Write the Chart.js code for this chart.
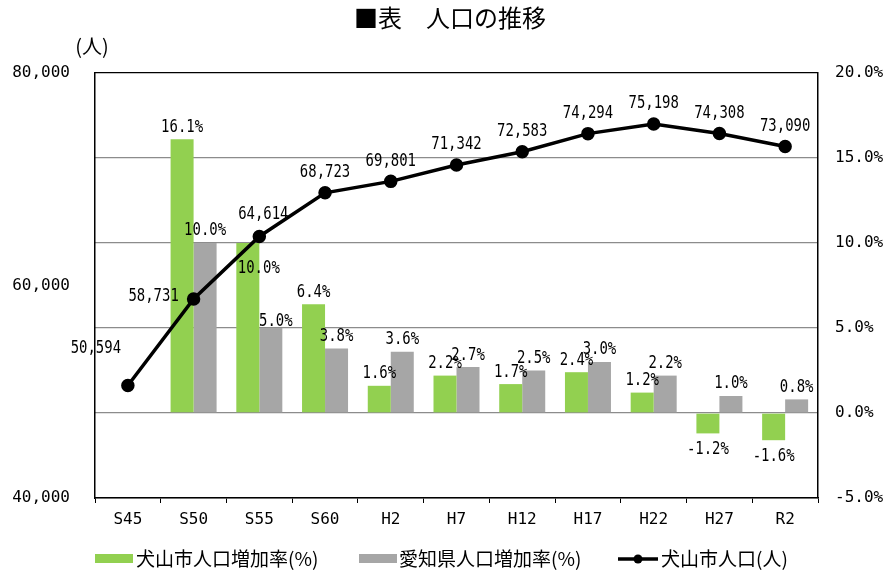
<!DOCTYPE html>
<html>
<head>
<meta charset="utf-8">
<script src="https://cdn.jsdelivr.net/npm/chart.js@4.4.1/dist/chart.umd.min.js"></script>
<style>
  body { margin: 0; background: #fff; }
  canvas { display: block; }
</style>
</head>
<body>
<canvas id="grafico" width="885" height="571"></canvas>
<script>
// データ
const nendo = ['S45', 'S50', 'S55', 'S60', 'H2', 'H7', 'H12', 'H17', 'H22', 'H27', 'R2'];
const inuyamaRitsu = [null, 16.1, 10.0, 6.4, 1.6, 2.2, 1.7, 2.4, 1.2, -1.2, -1.6]; // 犬山市人口増加率(%)
const aichiRitsu = [null, 10.0, 5.0, 3.8, 3.6, 2.7, 2.5, 3.0, 2.2, 1.0, 0.8];      // 愛知県人口増加率(%)
const inuyamaJinko = [50594, 58731, 64614, 68723, 69801, 71342, 72583, 74294, 75198, 74308, 73090]; // 犬山市人口(人)

const MIDORI = '#92D050';
const HAIIRO = '#A6A6A6';
const JP_FONT = '"Noto Sans CJK JP", sans-serif';
const NUM_FONT = '"DejaVu Sans Mono", monospace';

// ラベルを少し横長を詰めて描く
function drawNum(ctx, text, x, y) {
    ctx.save();
    ctx.font = '17px ' + NUM_FONT;
    ctx.textAlign = 'center';
    ctx.textBaseline = 'middle';
    ctx.fillStyle = '#000';
    ctx.translate(x, y);
    ctx.scale(0.82, 1);
    ctx.fillText(text, 0, 0);
    ctx.restore();
}

// データラベル
const labelPlugin = {
    id: 'labels',
    afterDatasetsDraw(chart) {
        const ctx = chart.ctx;
        // 棒グラフ
        [0, 1].forEach(di => {
            const meta = chart.getDatasetMeta(di);
            const vals = chart.data.datasets[di].data;
            meta.data.forEach((bar, i) => {
                const v = vals[i];
                if (v === null) return;
                let x = bar.x;
                let y = v >= 0 ? bar.y - 12 : bar.y + 16;
                if (di === 0 && i === 2) { x += 11; y += 38; } // 線と重ならないように
                if (di === 1 && i === 2) { x += 5; y += 6; }
                drawNum(ctx, v.toFixed(1) + '%', x, y);
            });
        });
        // 折れ線
        const meta = chart.getDatasetMeta(2);
        meta.data.forEach((pt, i) => {
            let x = pt.x, y = pt.y - 20;
            if (i === 0) { x -= 32; y = pt.y - 37; }
            if (i === 1) { x -= 40; y = pt.y - 2; }
            if (i === 2) { x += 4; y = pt.y - 22; }
            drawNum(ctx, inuyamaJinko[i].toLocaleString('en-US'), x, y);
        });
    }
};

// タイトル・単位・凡例
const decoPlugin = {
    id: 'deco',
    afterDraw(chart) {
        const ctx = chart.ctx;
        ctx.save();
        ctx.fillStyle = '#000';
        ctx.textBaseline = 'middle';
        ctx.textAlign = 'center';
        ctx.font = '24px ' + JP_FONT;
        ctx.fillText('■表\u3000人口の推移', 450, 18);
        ctx.font = '20px ' + JP_FONT;
        ctx.fillText('(人)', 92, 46);

        ctx.textAlign = 'left';
        ctx.font = '19px ' + JP_FONT;
        ctx.fillStyle = MIDORI;
        ctx.fillRect(95, 554, 38, 9);
        ctx.fillStyle = '#000';
        ctx.fillText('犬山市人口増加率(%)', 136, 559);

        ctx.fillStyle = HAIIRO;
        ctx.fillRect(359, 554, 38, 9);
        ctx.fillStyle = '#000';
        ctx.fillText('愛知県人口増加率(%)', 399, 559);

        ctx.strokeStyle = '#000';
        ctx.lineWidth = 3.5;
        ctx.beginPath();
        ctx.moveTo(618, 559);
        ctx.lineTo(658, 559);
        ctx.stroke();
        ctx.beginPath();
        ctx.arc(638, 559, 4.5, 0, Math.PI * 2);
        ctx.fill();
        ctx.fillText('犬山市人口(人)', 661, 559);
        ctx.restore();
    }
};

const config = {
    type: 'bar',
    data: {
        labels: nendo,
        datasets: [
            {
                label: '犬山市人口増加率(%)',
                data: inuyamaRitsu,
                backgroundColor: MIDORI,
                yAxisID: 'y1',
                order: 1,
                categoryPercentage: 0.7,
                barPercentage: 1.0
            },
            {
                label: '愛知県人口増加率(%)',
                data: aichiRitsu,
                backgroundColor: HAIIRO,
                yAxisID: 'y1',
                order: 1,
                categoryPercentage: 0.7,
                barPercentage: 1.0
            },
            {
                type: 'line',
                label: '犬山市人口(人)',
                data: inuyamaJinko,
                borderColor: '#000',
                backgroundColor: '#000',
                borderWidth: 3.5,
                pointRadius: 5,
                pointBackgroundColor: '#000',
                yAxisID: 'y',
                order: 0
            }
        ]
    },
    options: {
        responsive: false,
        devicePixelRatio: 1,
        animation: false,
        layout: { padding: { top: 73, left: 0, right: 0, bottom: 0 } },
        plugins: {
            legend: { display: false },
            title: { display: false },
            tooltip: { enabled: false }
        },
        scales: {
            x: {
                offset: true,
                grid: { drawOnChartArea: false, drawTicks: true, tickLength: 5, tickColor: '#000', offset: true },
                border: { color: '#000', width: 1.5 },
                ticks: { color: '#000', font: { family: NUM_FONT, size: 16 }, padding: 7 },
                afterFit(scale) { scale.height = 73; }
            },
            y: {
                position: 'left',
                min: 40000,
                max: 80000,
                grid: { display: false, drawTicks: false },
                border: { color: '#000', width: 1.5 },
                ticks: {
                    stepSize: 20000,
                    color: '#000',
                    padding: 25,
                    font: { family: NUM_FONT, size: 16 },
                    callback: v => v.toLocaleString('en-US')
                },
                afterFit(scale) { scale.width = 95; }
            },
            y1: {
                position: 'right',
                min: -5,
                max: 20,
                grid: {
                    drawTicks: false,
                    lineWidth: 1.3,
                    color: c => (c.tick && c.tick.value === 20) ? '#000' : '#8C8C8C'
                },
                border: { color: '#000', width: 1.5 },
                ticks: {
                    stepSize: 5,
                    color: '#000',
                    padding: 17,
                    font: { family: NUM_FONT, size: 16 },
                    callback: v => v.toFixed(1) + '%'
                },
                afterFit(scale) { scale.width = 67; }
            }
        }
    },
    plugins: [labelPlugin, decoPlugin]
};

const grafico = document.getElementById('grafico');
const myChart = new Chart(grafico, config);
</script>
</body>
</html>
